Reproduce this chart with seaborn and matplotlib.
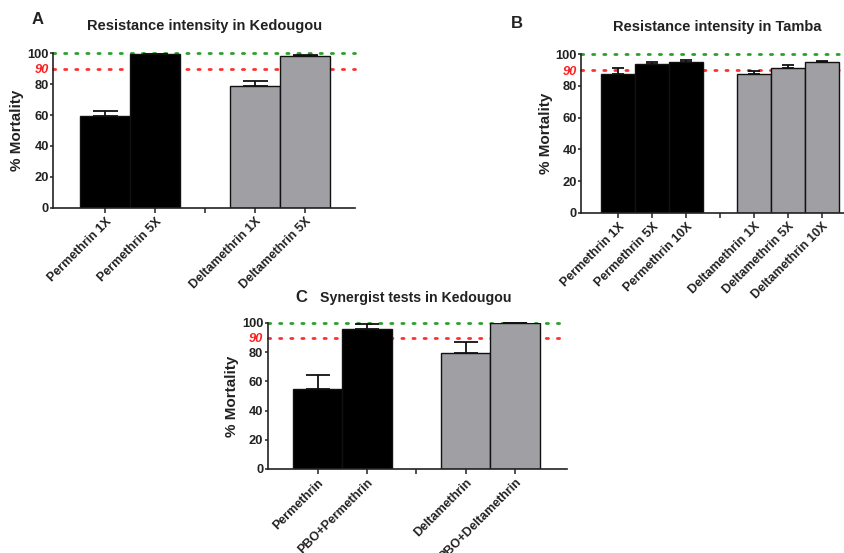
import numpy as np
import pandas as pd
import matplotlib
matplotlib.use("Agg")
import matplotlib.pyplot as plt
import seaborn as sns

# ─── Data ─────────────────────────────────────────────────────────────────────
a_labels = ["Permethrin 1X", "Permethrin 5X", "Deltamethrin 1X", "Deltamethrin 5X"]
a_groups = ["Permethrin", "Permethrin", "Deltamethrin", "Deltamethrin"]
a_mort = [59.1, 99.5, 78.7, 98.1]
a_err = [3.7, 0.0, 3.4, 0.8]

b_labels = ["Permethrin 1X", "Permethrin 5X", "Permethrin 10X",
            "Deltamethrin 1X", "Deltamethrin 5X", "Deltamethrin 10X"]
b_groups = ["Permethrin"] * 3 + ["Deltamethrin"] * 3
b_mort = [87.5, 93.7, 94.8, 87.6, 91.4, 95.2]
b_err = [3.9, 1.5, 1.4, 1.7, 1.7, 0.8]

c_labels = ["Permethrin", "PBO+Permethrin", "Deltamethrin", "PBO+Deltamethrin"]
c_groups = ["Permethrin", "Permethrin", "Deltamethrin", "Deltamethrin"]
c_mort = [54.6, 95.9, 79.1, 100.0]
c_err = [9.5, 3.5, 7.7, 0.0]

y_ticks = [0, 20, 40, 60, 80, 90, 100]
GAP = " "   # spacer category between the two insecticides
PALETTE = {"Permethrin": "black", "Deltamethrin": "#a0a0a4"}
TXT = "#222222"

sns.set_style("ticks")
plt.rcParams["font.family"] = ["Liberation Sans", "DejaVu Sans"]
plt.rcParams["font.weight"] = "bold"


def panel(ax, labels, groups, mort, err, n_first, xlim, capsize):
    order = labels[:n_first] + [GAP] + labels[n_first:]
    df = pd.DataFrame({"label": labels, "mortality": mort, "group": groups})

    ax.axhline(100, color="#2ca02c", lw=2, ls=(0, (0.8, 3.2)),
               dash_capstyle="round", zorder=0.5, clip_on=False)
    ax.axhline(90, color="#ff3030", lw=2, ls=(0, (0.8, 3.2)),
               dash_capstyle="round", zorder=0.5, clip_on=False)

    sns.barplot(data=df, x="label", y="mortality", hue="group", order=order,
                palette=PALETTE, dodge=False, width=1.0, edgecolor="#111111",
                linewidth=1.0, errorbar=None, legend=False, ax=ax)

    pos = [order.index(l) for l in labels]
    ax.errorbar(pos, mort, yerr=[np.zeros(len(err)), err], fmt="none",
                ecolor="#111111", elinewidth=1.3, capsize=capsize,
                capthick=1.3, zorder=3, clip_on=False)

    ax.set_xlim(*xlim)
    ax.set_ylim(0, 100)
    ax.set_yticks(y_ticks)
    ax.set_yticklabels([str(t) for t in y_ticks])
    for t, lab, tk in zip(y_ticks, ax.get_yticklabels(), ax.yaxis.get_major_ticks()):
        lab.set_fontweight("bold")
        lab.set_fontsize(9.3)
        lab.set_color(TXT)
        if t == 90:
            lab.set_color("#ff2020")
            lab.set_fontstyle("italic")
            tk.tick1line.set_visible(False)
    ax.set_xticks(range(len(order)))
    ax.set_xticklabels(order, rotation=45, ha="right", rotation_mode="anchor",
                       fontsize=9, fontweight="bold", color=TXT)
    ax.set_xlabel("")
    ax.set_ylabel("% Mortality", fontsize=11, fontweight="bold", color=TXT,
                  labelpad=2)
    ax.tick_params(axis="y", length=2.5, width=1.1, color="#222222", pad=0.8)
    ax.tick_params(axis="x", length=3.5, width=1.1, color="#222222", pad=2)
    for s in ("top", "right"):
        ax.spines[s].set_visible(False)
    for s in ("left", "bottom"):
        ax.spines[s].set_linewidth(1.2)
        ax.spines[s].set_color("#222222")
    ax.patch.set_alpha(0)


fig = plt.figure(figsize=(8.45, 5.53), dpi=100)

ax_a = fig.add_axes([0.063, 0.624, 0.357, 0.280])
panel(ax_a, a_labels, a_groups, a_mort, a_err, 2, (-1.04, 5.0), 9)

ax_b = fig.add_axes([0.688, 0.615, 0.325, 0.287])
panel(ax_b, b_labels, b_groups, b_mort, b_err, 3, (-1.09, 7.0), 4.5)

ax_c = fig.add_axes([0.317, 0.152, 0.354, 0.264])
panel(ax_c, c_labels, c_groups, c_mort, c_err, 2, (-1.01, 5.05), 8.5)

# titles and panel letters
fig.text(0.044, 1 - 20 / 553, "A", fontsize=12, fontweight="bold", color=TXT,
         va="center", ha="center")
fig.text(0.242, 1 - 26 / 553, "Resistance intensity in Kedougou", fontsize=10.5,
         fontweight="bold", color=TXT, va="center", ha="center")
fig.text(0.612, 1 - 23 / 553, "B", fontsize=12, fontweight="bold", color=TXT,
         va="center", ha="center")
fig.text(0.849, 1 - 27 / 553, "Resistance intensity in Tamba", fontsize=10.5,
         fontweight="bold", color=TXT, va="center", ha="center")
fig.text(0.357, 1 - 298 / 553, "C", fontsize=12, fontweight="bold", color=TXT,
         va="center", ha="center")
fig.text(0.492, 1 - 298 / 553, "Synergist tests in Kedougou", fontsize=10.2,
         fontweight="bold", color=TXT, va="center", ha="center")

fig.savefig("out.png", dpi=100)
plt.close(fig)
